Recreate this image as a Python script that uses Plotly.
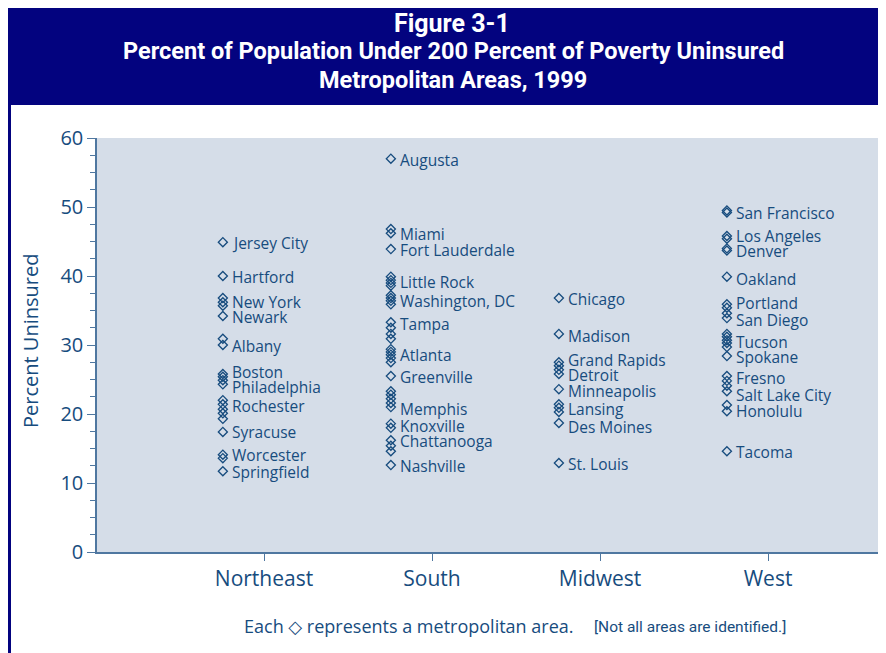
import plotly.graph_objects as go

# ---------------- data ----------------
regions = ["Northeast", "South", "Midwest", "West"]

northeast = [44.9, 40.0, 36.8, 36.2, 35.7, 34.2, 30.9, 30.0, 25.8, 25.4, 24.9, 24.3,
             22.0, 21.4, 20.7, 20.1, 19.3, 17.4, 14.1, 13.6, 11.7]
south = [57.0, 46.8, 46.2, 43.9, 39.9, 39.4, 39.0, 38.6, 37.2, 36.8, 36.4, 35.9,
         33.3, 32.5, 31.6, 30.9, 29.4, 29.0, 28.6, 28.1, 27.5, 25.5, 23.3, 22.8,
         22.2, 21.6, 21.0, 18.6, 18.0, 16.2, 15.4, 14.6, 12.6]
midwest = [36.8, 31.6, 27.5, 27.0, 26.4, 25.8, 23.6, 21.4, 20.9, 20.3, 18.7, 12.9]
west = [49.5, 49.2, 45.8, 45.4, 44.0, 43.7, 39.9, 35.9, 35.4, 34.6, 33.9, 31.6,
        31.2, 30.7, 30.3, 29.7, 28.4, 25.5, 24.8, 24.1, 23.3, 21.3, 20.4, 14.6]

northeast_labels = ["Jersey City", "Hartford", "New York", "Newark", "Albany", "Boston",
                    "Philadelphia", "Rochester", "Syracuse", "Worcester", "Springfield"]
northeast_label_y = [44.8, 39.9, 36.2, 34.1, 29.9, 26.1, 23.9, 21.2, 17.4, 14.1, 11.6]

south_labels = ["Augusta", "Miami", "Fort Lauderdale", "Little Rock", "Washington, DC",
                "Tampa", "Atlanta", "Greenville", "Memphis", "Knoxville", "Chattanooga",
                "Nashville"]
south_label_y = [56.8, 46.1, 43.8, 39.1, 36.4, 33.0, 28.6, 25.4, 20.7, 18.3, 16.1, 12.5]

midwest_labels = ["Chicago", "Madison", "Grand Rapids", "Detroit", "Minneapolis",
                  "Lansing", "Des Moines", "St. Louis"]
midwest_label_y = [36.7, 31.3, 27.8, 25.7, 23.3, 20.7, 18.1, 12.8]

west_labels = ["San Francisco", "Los Angeles", "Denver", "Oakland", "Portland",
               "San Diego", "Tucson", "Spokane", "Fresno", "Salt Lake City",
               "Honolulu", "Tacoma"]
west_label_y = [49.1, 45.8, 43.6, 39.6, 36.1, 33.6, 30.4, 28.3, 25.2, 22.8, 20.4, 14.5]

y_ticks = [0, 10, 20, 30, 40, 50, 60]

# ---------------- style ----------------
NAVY = "#03037f"
TEXT = "#174c7e"
AXIS = "#4f77a0"
BG = "#d5dde8"
BODY_FONT = "Open Sans, Noto Sans, DejaVu Sans, sans-serif"
TITLE_FONT = "Roboto, Liberation Sans, sans-serif"
NARROW_FONT = "Roboto, Liberation Sans, sans-serif"
OFFSET = -0.245

series = [northeast, south, midwest, west]
label_sets = [(northeast_labels, northeast_label_y), (south_labels, south_label_y),
              (midwest_labels, midwest_label_y), (west_labels, west_label_y)]

fig = go.Figure()
for i, vals in enumerate(series):
    fig.add_trace(go.Scatter(
        x=[i + OFFSET] * len(vals), y=vals, mode="markers",
        marker=dict(symbol="diamond-open", size=7, color=TEXT, line=dict(width=1.3, color=TEXT)),
        showlegend=False, hoverinfo="y"))

annotations = []
for i, (names, ys) in enumerate(label_sets):
    for name, yv in zip(names, ys):
        annotations.append(dict(x=i + OFFSET, y=yv, xref="x", yref="y", text=name,
                                showarrow=False, xanchor="left", yanchor="middle", xshift=7,
                                font=dict(family=BODY_FONT, size=15.5, color=TEXT)))

# page-pixel -> paper coordinates (plot area spans page x 97..884, y 138..552)
H_PLOT = 414.0
W_PLOT = 787.0
def py(p):
    return (552 - p) / H_PLOT
def px(p):
    return (p - 97) / W_PLOT

annotations += [
    dict(x=px(452), y=py(8.5), xref="paper", yref="paper", text="<b>Figure 3-1</b>",
         showarrow=False, xanchor="center", yanchor="top", borderpad=0,
         font=dict(family=TITLE_FONT, size=25, color="white")),
    dict(x=px(453), y=py(51), xref="paper", yref="paper",
         text="<b>Percent of Population Under 200 Percent of Poverty Uninsured</b>",
         showarrow=False, xanchor="center", yanchor="middle",
         font=dict(family=TITLE_FONT, size=23.5, color="white")),
    dict(x=px(453), y=py(80), xref="paper", yref="paper", text="<b>Metropolitan Areas, 1999</b>",
         showarrow=False, xanchor="center", yanchor="middle",
         font=dict(family=TITLE_FONT, size=23.5, color="white")),
    dict(x=px(30), y=py(341), xref="paper", yref="paper", text="Percent Uninsured",
         textangle=-90, showarrow=False, xanchor="center", yanchor="middle",
         font=dict(family=BODY_FONT, size=20, color=TEXT)),
    dict(x=px(242), y=py(626), xref="paper", yref="paper", xanchor="left", yanchor="middle",
         text="Each \u25C7 represents a metropolitan area.", showarrow=False,
         font=dict(family=BODY_FONT, size=18, color=TEXT)),
    dict(x=px(592), y=py(627), xref="paper", yref="paper", xanchor="left", yanchor="middle",
         text="[Not all areas are identified.]", showarrow=False,
         font=dict(family=NARROW_FONT, size=15.5, color=TEXT)),
]

shapes = [
    dict(type="rect", xref="paper", yref="paper", x0=px(8), x1=px(890), y0=py(105), y1=py(-5),
         fillcolor=NAVY, line=dict(width=0), layer="below"),
    dict(type="line", xref="paper", yref="paper", x0=px(9.5), x1=px(9.5), y0=py(-5), y1=py(660),
         line=dict(color=NAVY, width=3)),
]

# The page has an 8px body margin: figure spans page x 8..886, y 8..653
fig.update_layout(
    width=878, height=645,
    margin=dict(l=89, r=2, t=130, b=101),
    paper_bgcolor="white", plot_bgcolor=BG,
    annotations=annotations, shapes=shapes,
    xaxis=dict(range=[-0.994, 3.69], tickvals=[0, 1, 2, 3], ticktext=regions,
               ticks="outside", ticklen=7, tickcolor=AXIS, showline=True, linecolor=AXIS,
               linewidth=1.5, showgrid=False, zeroline=False,
               tickfont=dict(family=BODY_FONT, size=21, color=TEXT)),
    yaxis=dict(range=[0, 60], tickvals=y_ticks, ticks="outside", ticklen=8, tickcolor=AXIS,
               showline=True, linecolor=AXIS, linewidth=1.5, showgrid=False, zeroline=False,
               minor=dict(dtick=2.5, ticks="outside", ticklen=5, tickcolor=AXIS, showgrid=False),
               tickfont=dict(family=BODY_FONT, size=20, color=TEXT)),
)

fig.write_html("out.html")
